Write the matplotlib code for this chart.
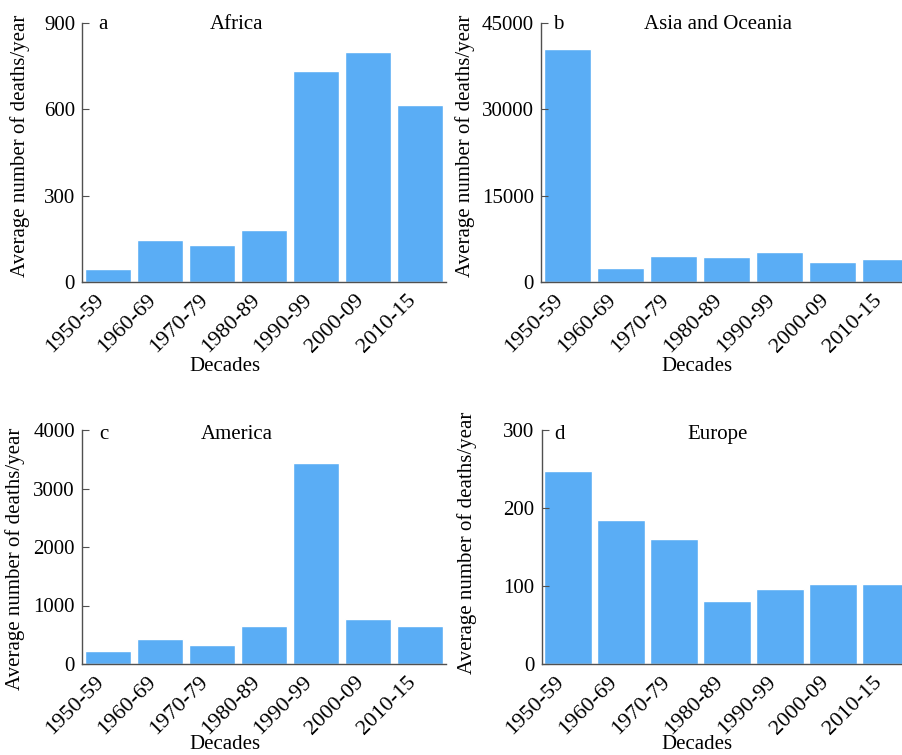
import matplotlib
matplotlib.use("Agg")
import matplotlib.pyplot as plt
from matplotlib.transforms import ScaledTranslation

plt.rcParams['font.family'] = ['Liberation Serif', 'DejaVu Serif']
plt.rcParams['font.size'] = 15

# Datos (promedio de muertes por año)
decades = ["1950-59", "1960-69", "1970-79", "1980-89", "1990-99", "2000-09", "2010-15"]
africa = [44, 146, 130, 181, 733, 798, 615]
asia_oceania = [40500, 2440, 4470, 4290, 5220, 3480, 4000]
america = [228, 427, 325, 650, 3436, 775, 650]
europe = [248, 184, 160, 81, 96, 103, 103]

panels = [
    ("a", "Africa", africa, 900, [0, 300, 600, 900]),
    ("b", "Asia and Oceania", asia_oceania, 45000, [0, 15000, 30000, 45000]),
    ("c", "America", america, 4000, [0, 1000, 2000, 3000, 4000]),
    ("d", "Europe", europe, 300, [0, 100, 200, 300]),
]

W, H = 902, 755
fig = plt.figure(figsize=(W / 100, H / 100), dpi=100)

# posiciones en pixeles: (izq, arriba, ancho, alto)
boxes = [(82, 23, 364, 259), (541, 23, 371, 259), (82, 430, 364, 234), (541.5, 430, 371, 234)]
ylab_xy = [(-0.1425, 0.525), (-0.178, 0.525), (-0.1565, 0.449), (-0.174, 0.517)]
xlab_xy = [(0.393, -0.29), (0.42, -0.29), (0.393, -0.305), (0.419, -0.305)]
letter_x = [98, 553, 99, 554]
title_x = [237, 718, 237, 718]
baseline_y = [29.3, 29.3, 439.3, 439.3]
spine_col = "#505050"

for i, (letter, name, vals, ymax, yticks) in enumerate(panels):
    l, t, w, h = boxes[i]
    ax = fig.add_axes([l / W, 1 - (t + h) / H, w / W, h / H])
    ax.bar(range(len(decades)), vals, width=0.9, color="#5aadf5",
           edgecolor="white", linewidth=1)
    ax.set_xlim(-0.5, len(decades) - 0.5)
    ax.set_ylim(0, ymax)
    ax.set_yticks(yticks)
    ax.set_xticks(range(len(decades)))
    ax.set_xticklabels(decades, rotation=45, ha="right", fontsize=16)
    off = ScaledTranslation(4 / 100, 0, fig.dpi_scale_trans)
    for lab in ax.get_xticklabels():
        lab.set_transform(lab.get_transform() + off)
    ax.tick_params(axis="y", direction="in", length=5, width=0.8, pad=5, color=spine_col)
    ax.tick_params(axis="x", length=0, pad=6)
    for s in ["top", "right"]:
        ax.spines[s].set_visible(False)
    for s in ["left", "bottom"]:
        ax.spines[s].set_linewidth(1)
        ax.spines[s].set_color(spine_col)
    ax.set_ylabel("Average number of deaths/year")
    ax.yaxis.set_label_coords(*ylab_xy[i])
    ax.set_xlabel("Decades", va="top")
    ax.xaxis.set_label_coords(*xlab_xy[i])
    fig.text(letter_x[i] / W, 1 - baseline_y[i] / H, letter, va="baseline", ha="left")
    fig.text(title_x[i] / W, 1 - baseline_y[i] / H, name, va="baseline", ha="center")

fig.savefig("out.png", dpi=100)
